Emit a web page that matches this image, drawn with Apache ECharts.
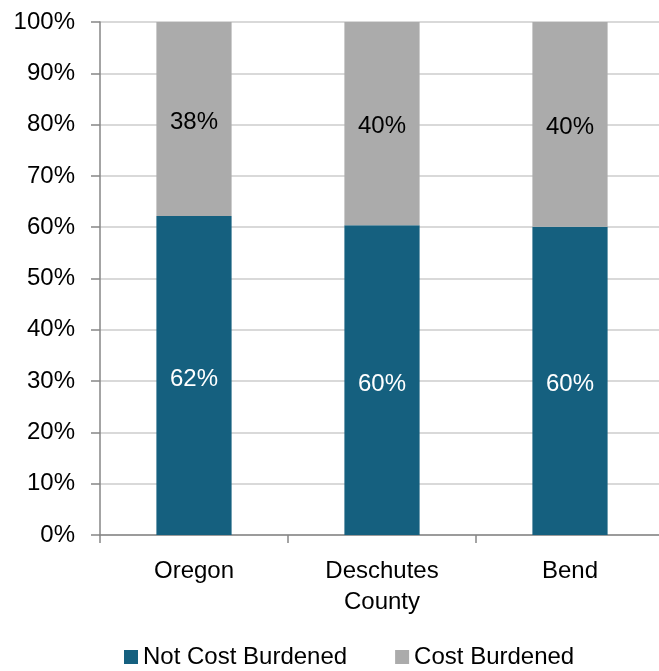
<!DOCTYPE html>
<html>
<head>
<meta charset="utf-8">
<script src="https://cdn.jsdelivr.net/npm/echarts@6/dist/echarts.min.js"></script>
<style>
  html, body { margin: 0; padding: 0; background: #fff; }
  #chart { width: 659px; height: 671px; }
</style>
</head>
<body>
<div id="chart"></div>
<script>
// data
var categories = ['Oregon', 'Deschutes\nCounty', 'Bend'];
var notBurdened = [62.2, 60.4, 60.1];
var burdened = [37.8, 39.6, 39.9];
var yTicks = [0, 10, 20, 30, 40, 50, 60, 70, 80, 90, 100];

var font = '"Liberation Sans", Arial, sans-serif';

var chart = echarts.init(document.getElementById('chart'));
chart.setOption({
  animation: false,
  textStyle: { fontFamily: font },
  grid: { left: 100, top: 22, width: 564, height: 513, outerBoundsMode: 'none', containLabel: false },
  legend: {
    bottom: -3,
    left: 119,
    itemWidth: 14,
    itemHeight: 14,
    itemGap: 48,
    icon: 'rect',
    textStyle: { fontSize: 24, color: '#000', fontFamily: font },
    data: ['Not Cost Burdened', 'Cost Burdened']
  },
  xAxis: {
    type: 'category',
    data: categories,
    axisLine: { lineStyle: { color: '#868686', width: 1.5 } },
    axisTick: { show: true, length: 8, lineStyle: { color: '#868686', width: 1.5 } },
    axisLabel: { fontSize: 24, color: '#000', margin: 21, lineHeight: 31 }
  },
  yAxis: {
    type: 'value',
    min: 0,
    max: 100,
    interval: 10,
    axisLine: { show: true, lineStyle: { color: '#868686', width: 1.5 } },
    axisTick: { show: true, length: 9, lineStyle: { color: '#868686', width: 1.5 } },
    axisLabel: {
      fontSize: 24, color: '#000', margin: 25,
      formatter: function (v) { return yTicks.indexOf(v) >= 0 ? v + '%' : ''; }
    },
    splitLine: { lineStyle: { color: '#d9d9d9', width: 2 } }
  },
  series: [
    {
      name: 'Not Cost Burdened',
      type: 'bar',
      stack: 'total',
      barWidth: '40%',
      data: notBurdened,
      itemStyle: { color: '#15607f' },
      label: {
        show: true, position: 'inside', color: '#fff', fontSize: 24, offset: [0, 4],
        formatter: function (p) { return Math.round(p.value) + '%'; }
      }
    },
    {
      name: 'Cost Burdened',
      type: 'bar',
      stack: 'total',
      barWidth: '40%',
      data: burdened,
      itemStyle: { color: '#ababab' },
      label: {
        show: true, position: 'inside', color: '#000', fontSize: 24, offset: [0, 3],
        formatter: function (p) { return Math.round(p.value) + '%'; }
      }
    }
  ]
});
</script>
</body>
</html>
